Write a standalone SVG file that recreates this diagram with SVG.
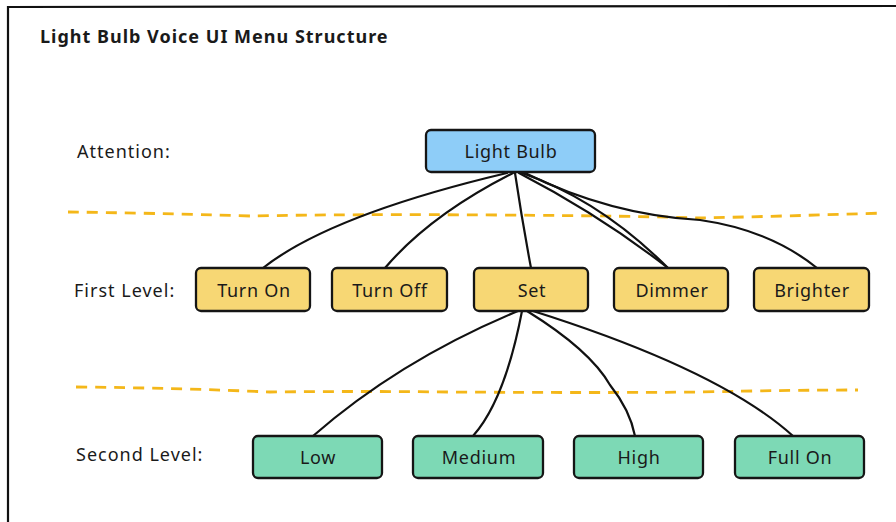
<svg xmlns="http://www.w3.org/2000/svg" width="896" height="522" viewBox="0 0 896 522">
<style>
text{font-family:"Noto Sans","Liberation Sans",sans-serif;fill:#1a1a1a}
.title{font-size:18px;font-weight:bold;letter-spacing:1px}
.lbl{font-size:18px;letter-spacing:1px}
.nt{font-size:18px;letter-spacing:0.7px;text-anchor:middle;dominant-baseline:central}
.box{stroke:#151515;stroke-width:2.3}
.blue{fill:#8ecdf8}
.yel{fill:#f7d774}
.grn{fill:#7dd9b5}
.con path{fill:none;stroke:#111;stroke-width:2.2;stroke-linecap:round}
.dash{fill:none;stroke:#f4b719;stroke-width:2.8;stroke-dasharray:11 8}
</style>
<rect width="896" height="522" fill="#fff"/>
<path d="M8 522 L8 7 L896 6" fill="none" stroke="#111" stroke-width="2.2"/>
<text class="title" x="40" y="43">Light Bulb Voice UI Menu Structure</text>
<text class="lbl" x="77" y="158">Attention:</text>
<text class="lbl" x="74" y="297">First Level:</text>
<text class="lbl" x="76" y="461">Second Level:</text>
<path class="dash" d="M68 212 Q150 213 250 216 Q350 214 500 215 Q640 216 700 218 Q790 216 884 213"/>
<path class="dash" d="M76 387 Q180 388 270 392 Q360 391 450 392 Q600 393 700 392 Q790 390 858 390"/>
<g class="con">
<path d="M507 173 Q330 215 263 268"/>
<path d="M513 173 Q430 215 385 268"/>
<path d="M515 173 Q522 220 531 268"/>
<path d="M519 173 Q600 215 668 268"/>
<path d="M522 173 Q600 200 668 268" stroke-width="1.3"/>
<path d="M525 173 Q610 215 700 220 Q770 230 817 268"/>
<path d="M518 311 Q400 360 313 436"/>
<path d="M522 311 Q505 400 473 436"/>
<path d="M527 311 Q590 350 610 385 Q630 410 635 436"/>
<path d="M533 311 Q720 370 793 436"/>
</g>
<g id="n-lightbulb"><rect class="box blue" x="426" y="130" width="169" height="42" rx="5"/><text class="nt" x="511" y="151">Light Bulb</text></g>
<g id="n-turnon"><rect class="box yel" x="196" y="268" width="114" height="43" rx="5"/><text class="nt" x="254" y="290">Turn On</text></g>
<g id="n-turnoff"><rect class="box yel" x="332" y="268" width="115" height="43" rx="5"/><text class="nt" x="390" y="290">Turn Off</text></g>
<g id="n-set"><rect class="box yel" x="474" y="268" width="114" height="43" rx="5"/><text class="nt" x="532" y="290">Set</text></g>
<g id="n-dimmer"><rect class="box yel" x="614" y="268" width="114" height="43" rx="5"/><text class="nt" x="672" y="290">Dimmer</text></g>
<g id="n-brighter"><rect class="box yel" x="754" y="268" width="115" height="43" rx="5"/><text class="nt" x="812" y="290">Brighter</text></g>
<g id="n-low"><rect class="box grn" x="253" y="436" width="129" height="42" rx="5"/><text class="nt" x="318" y="457">Low</text></g>
<g id="n-medium"><rect class="box grn" x="413" y="436" width="130" height="42" rx="5"/><text class="nt" x="479" y="457">Medium</text></g>
<g id="n-high"><rect class="box grn" x="574" y="436" width="129" height="42" rx="5"/><text class="nt" x="639" y="457">High</text></g>
<g id="n-fullon"><rect class="box grn" x="735" y="436" width="129" height="42" rx="5"/><text class="nt" x="800" y="457">Full On</text></g>
</svg>
